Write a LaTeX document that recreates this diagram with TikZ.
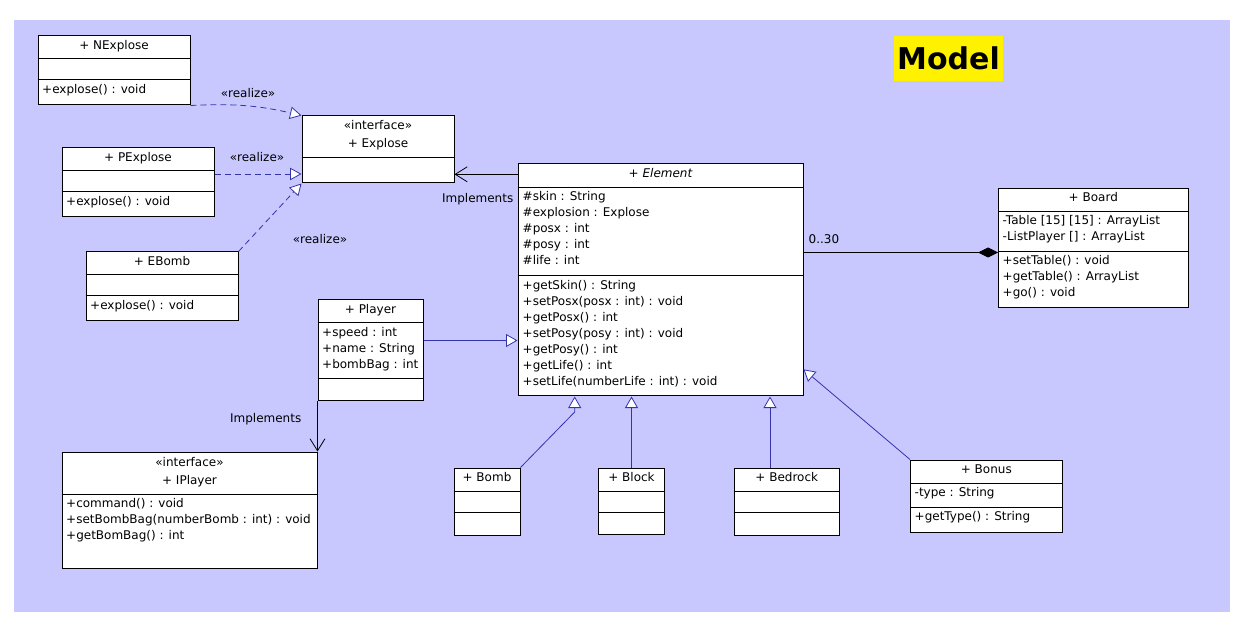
\documentclass[tikz,border=0pt]{standalone}
\usepackage{fontspec}
\setmainfont{DejaVu Sans}
\usetikzlibrary{arrows.meta,fit}

\definecolor{umlback}{RGB}{200,200,255}
\definecolor{umlblue}{RGB}{51,51,170}

\begin{document}
\begin{tikzpicture}[x=1pt,y=-1pt,font=\fontsize{12}{16}\selectfont]
  \tikzstyle{classbox}=[draw,fill=white,line width=1pt,inner sep=0pt]
  \tikzstyle{ctitle}=[anchor=base,inner sep=0pt]
  % multi-line nodes: base is the baseline of the last line
  \tikzstyle{stereo}=[anchor=base,inner sep=0pt,align=center,font=\fontsize{12}{18}\selectfont]
  \tikzstyle{members}=[anchor=base west,align=left,inner sep=0pt]
  \tikzstyle{divider}=[line width=1pt]
  \tikzstyle{label}=[inner sep=0pt]
  \tikzstyle{realize}=[umlblue,line width=0.8pt,dash pattern=on 6pt off 4pt,
                       -{Triangle[length=11.5pt,width=12.5pt,fill=white]}]
  \tikzstyle{generalize}=[umlblue,line width=0.8pt,
                          -{Triangle[length=11.5pt,width=13pt,fill=white]}]
  \tikzstyle{implements}=[black,line width=0.8pt,-{Straight Barb[length=12pt,width=15pt]}]
  \tikzstyle{composition}=[black,line width=0.8pt,-{Diamond[length=20pt,width=10pt]}]

  \useasboundingbox (0,0) rectangle (1251,636);
  \fill[umlback] (14,20) rectangle (1230,612);

  \node[fill=yellow,inner sep=0pt,minimum width=109pt,minimum height=45pt,
        font=\fontsize{30}{36}\selectfont\bfseries] (model) at (948.5,58.5) {Model};

  % classes on the left
  \node[classbox,fit={(38,36) (190,105)}] (nexplose) {};
  \draw[divider] (nexplose.west |- 0,59) -- (nexplose.east |- 0,59);
  \draw[divider] (nexplose.west |- 0,80) -- (nexplose.east |- 0,80);
  \node[ctitle] (nexplose-name) at (114,49.3) {+ NExplose};
  \node[members] (nexplose-ops) at (42,93.3) {+explose() : void};

  \node[classbox,fit={(62,148) (214,217)}] (pexplose) {};
  \draw[divider] (pexplose.west |- 0,171) -- (pexplose.east |- 0,171);
  \draw[divider] (pexplose.west |- 0,192) -- (pexplose.east |- 0,192);
  \node[ctitle] (pexplose-name) at (138,161.3) {+ PExplose};
  \node[members] (pexplose-ops) at (66,205.3) {+explose() : void};

  \node[classbox,fit={(86,252) (238,321)}] (ebomb) {};
  \draw[divider] (ebomb.west |- 0,275) -- (ebomb.east |- 0,275);
  \draw[divider] (ebomb.west |- 0,296) -- (ebomb.east |- 0,296);
  \node[ctitle] (ebomb-name) at (162,265.3) {+ EBomb};
  \node[members] (ebomb-ops) at (90,309.3) {+explose() : void};

  \node[classbox,fit={(302,116) (454,183)}] (explose) {};
  \draw[divider] (explose.west |- 0,158) -- (explose.east |- 0,158);
  \node[stereo] (explose-name) at (378,148) {«interface»\\+ Explose};

  \node[classbox,fit={(318,300) (423,401)}] (player) {};
  \draw[divider] (player.west |- 0,323) -- (player.east |- 0,323);
  \draw[divider] (player.west |- 0,379) -- (player.east |- 0,379);
  \node[ctitle] (player-name) at (370.5,313.3) {+ Player};
  \node[members] (player-attrs) at (322,368.5) {+speed : int\\+name : String\\+bombBag : int};

  \node[classbox,fit={(62,452) (317,568)}] (iplayer) {};
  \draw[divider] (iplayer.west |- 0,494) -- (iplayer.east |- 0,494);
  \node[stereo] (iplayer-name) at (189.5,484.3) {«interface»\\+ IPlayer};
  \node[members] (iplayer-ops) at (66,539.5)
    {+command() : void\\+setBombBag(numberBomb : int) : void\\+getBomBag() : int};

  % element and board
  \node[classbox,fit={(518,164) (803,396)}] (element) {};
  \draw[divider] (element.west |- 0,187.5) -- (element.east |- 0,187.5);
  \draw[divider] (element.west |- 0,275.5) -- (element.east |- 0,275.5);
  \node[ctitle,font=\fontsize{12}{16}\selectfont\itshape] (element-name) at (660.5,177.5) {+ Element};
  \node[members] (element-attrs) at (522.5,265)
    {\#skin : String\\\#explosion : Explose\\\#posx : int\\\#posy : int\\\#life : int};
  \node[members] (element-ops) at (522.5,385)
    {+getSkin() : String\\+setPosx(posx : int) : void\\+getPosx() : int\\+setPosy(posy : int) : void\\+getPosy() : int\\+getLife() : int\\+setLife(numberLife : int) : void};

  \node[classbox,fit={(998.5,188.5) (1188,308)}] (board) {};
  \draw[divider] (board.west |- 0,211.5) -- (board.east |- 0,211.5);
  \draw[divider] (board.west |- 0,251.5) -- (board.east |- 0,251.5);
  \node[ctitle] (board-name) at (1093.3,201.8) {+ Board};
  \node[members] (board-attrs) at (1002.5,241) {-Table [15] [15] : ArrayList\\-ListPlayer [] : ArrayList};
  \node[members] (board-ops) at (1002.5,296.8) {+setTable() : void\\+getTable() : ArrayList\\+go() : void};

  % subclasses below
  \node[classbox,fit={(454,468) (520,535)}] (bomb) {};
  \draw[divider] (bomb.west |- 0,491) -- (bomb.east |- 0,491);
  \draw[divider] (bomb.west |- 0,512) -- (bomb.east |- 0,512);
  \node[ctitle] (bomb-name) at (487,481.3) {+ Bomb};

  \node[classbox,fit={(598.5,468) (664.5,534.5)}] (block) {};
  \draw[divider] (block.west |- 0,491) -- (block.east |- 0,491);
  \draw[divider] (block.west |- 0,512) -- (block.east |- 0,512);
  \node[ctitle] (block-name) at (631.5,481.3) {+ Block};

  \node[classbox,fit={(734,468) (839.5,535)}] (bedrock) {};
  \draw[divider] (bedrock.west |- 0,491) -- (bedrock.east |- 0,491);
  \draw[divider] (bedrock.west |- 0,512) -- (bedrock.east |- 0,512);
  \node[ctitle] (bedrock-name) at (786.8,481.3) {+ Bedrock};

  \node[classbox,fit={(910.5,460) (1062,532)}] (bonus) {};
  \draw[divider] (bonus.west |- 0,483) -- (bonus.east |- 0,483);
  \draw[divider] (bonus.west |- 0,507) -- (bonus.east |- 0,507);
  \node[ctitle] (bonus-name) at (986.3,473.3) {+ Bonus};
  \node[members] (bonus-attrs) at (914.5,496.3) {-type : String};
  \node[members] (bonus-ops) at (914.5,520.3) {+getType() : String};

  % connectors
  \draw[realize] (nexplose.south east) to[bend left=8] (explose.north west);
  \draw[realize] (pexplose.east |- 0,174) -- (explose.west |- 0,174);
  \draw[realize] (ebomb.north east) -- (explose.south west);
  \node[label] (realize-n) at (248,93) {«realize»};
  \node[label] (realize-p) at (257,157) {«realize»};
  \node[label] (realize-e) at (320,239) {«realize»};

  \draw[implements] (element.west |- 0,174.3) -- (explose.east |- 0,174.3);
  \node[label,anchor=east] (impl-explose) at (513.5,199.3) {Implements};
  \draw[implements] (player.south west) -- (iplayer.north east);
  \node[label] (impl-player) at (265.7,419.3) {Implements};

  \draw[composition] (element.east |- 0,252.5) -- (board.west |- 0,252.5);
  \node[label,anchor=west] (mult) at (808.5,239) {0..30};

  \draw[generalize] (player.east |- 0,340.5) -- (element.west |- 0,340.5);
  \coordinate (bombbend) at (574.7,412);
  \draw[generalize] (bomb.north east) -- (bombbend) -- (bombbend |- element.south);
  \draw[generalize] (block.north) -- (block.north |- element.south);
  \draw[generalize] (bedrock.north -| 770,0) -- (element.south -| 770,0);
  \draw[generalize] (bonus.north west) -- (element.-32.5);
\end{tikzpicture}
\end{document}
